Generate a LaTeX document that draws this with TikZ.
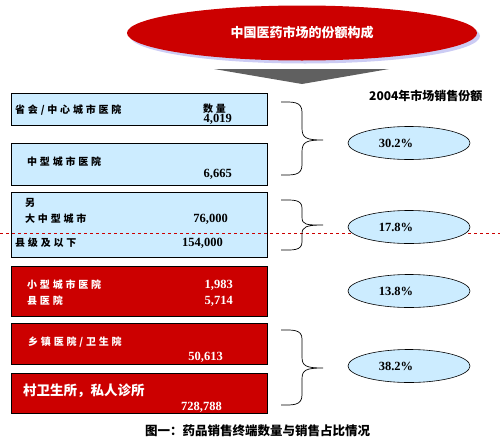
\documentclass[tikz,border=0pt]{standalone}
\usepackage{fontspec}
\setmainfont{Liberation Serif}
\newfontfamily\cjk{Noto Sans CJK SC}
\newfontfamily\cjksp[LetterSpace=28]{Noto Sans CJK SC}
\usetikzlibrary{shapes.geometric}
\definecolor{dred}{HTML}{CC0000}
\definecolor{lblue}{HTML}{CCECFF}
\definecolor{tgray}{HTML}{606060}
\definecolor{shad}{HTML}{CCCCF4}
\tikzset{
  bluebox/.style={draw=black, line width=0.9pt, fill=lblue},
  redbox/.style={draw=black, line width=0.9pt, fill=dred},
  lbl/.style={anchor=west, inner sep=0pt, font=\cjksp\bfseries\fontsize{10}{11}\selectfont},
  wlbl/.style={lbl, text=white},
  num/.style={anchor=east, inner sep=0pt, font=\bfseries\fontsize{12.5}{13}\selectfont},
  wnum/.style={num, text=white},
  pct/.style={ellipse, draw=black, line width=0.6pt, fill=lblue, minimum width=122pt, minimum height=33pt, inner sep=0pt, font=\bfseries\fontsize{12.5}{13}\selectfont},
  bracestyle/.style={draw=black, line width=0.7pt}
}
\begin{document}
\begin{tikzpicture}[x=1pt,y=-1pt]
\useasboundingbox (0,0) rectangle (500,442);
% title ellipse with shadow
\fill[shad] (305,36) ellipse (175pt and 27.5pt);
\node[ellipse, fill=dred, minimum width=350pt, minimum height=55pt, inner sep=0pt, text=white, font=\cjk\bfseries\fontsize{13}{14}\selectfont] (title) at (302,33) {中国医药市场的份额构成};
% grey arrow
\fill[tgray] (214,69) -- (389,69) -- (302,84) -- cycle;
\node[anchor=west, inner sep=0pt, font=\cjk\bfseries\fontsize{12}{13}\selectfont] (hdr) at (369,96) {2004年市场销售份额};
% boxes
\draw[bluebox] (11,93) rectangle (267,125);
\draw[bluebox] (11,143) rectangle (267,185);
\draw[bluebox] (11,192) rectangle (267,257);
\draw[redbox] (11,266) rectangle (267,316);
\draw[redbox] (11,323) rectangle (267,364);
\draw[redbox] (11,373) rectangle (267,413);
% dashed line
\draw[dred, dashed, line width=0.8pt] (0,233) -- (500,233);
% box 1
\node[lbl] (b1a) at (15,110) {省会/中心城市医院};
\node[lbl] (b1b) at (203,109) {数量};
\node[num] (b1n) at (232,119.5) {4,019};
% box 2
\node[lbl] (b2a) at (27,162) {中型城市医院};
\node[num] (b2n) at (232,174.5) {6,665};
% box 3
\node[lbl] (b3a) at (25,203) {另};
\node[lbl] (b3b) at (25,219) {大中型城市};
\node[num] (b3n) at (228,219) {76,000};
\node[lbl] (b3c) at (15,243) {县级及以下};
\node[num] (b3m) at (223,243) {154,000};
% box 4
\node[wlbl] (b4a) at (27,285) {小型城市医院};
\node[wnum] (b4n) at (233,285) {1,983};
\node[wlbl] (b4b) at (27,301) {县医院};
\node[wnum] (b4m) at (233,301) {5,714};
% box 5
\node[wlbl] (b5a) at (28,342) {乡镇医院/卫生院};
\node[wnum] (b5n) at (223,357) {50,613};
% box 6
\node[anchor=west, inner sep=0pt, text=white, font=\cjk\bfseries\fontsize{13.5}{14}\selectfont] (b6a) at (23,391) {村卫生所，私人诊所};
\node[wnum] (b6n) at (222,407) {728,788};
% braces
\draw[bracestyle] (281,102) .. controls (292,102) and (302,101) .. (302,112) -- (302,128) .. controls (302,138) and (306,140) .. (323,140)
  .. controls (306,140) and (302,142) .. (302,152) -- (302,165) .. controls (302,176) and (292,175) .. (281,175);
\draw[bracestyle] (281,200) .. controls (292,200) and (302,199) .. (302,208) -- (302,217) .. controls (302,225) and (306,225) .. (323,225)
  .. controls (306,225) and (302,227) .. (302,234) -- (302,242) .. controls (302,251) and (292,250) .. (281,250);
\draw[bracestyle] (281,330) .. controls (292,330) and (302,329) .. (302,339) -- (302,357) .. controls (302,366) and (306,368) .. (323,368)
  .. controls (306,368) and (302,370) .. (302,379) -- (302,395) .. controls (302,406) and (292,405) .. (281,405);
% percentages
\node[pct] (p1) at (409,143) {\hspace*{-26pt}30.2\%};
\node[pct] (p2) at (409,227) {\hspace*{-26pt}17.8\%};
\node[pct] (p3) at (409,291) {\hspace*{-26pt}13.8\%};
\node[pct] (p4) at (409,366) {\hspace*{-26pt}38.2\%};
% caption
\node[anchor=west, inner sep=0pt, font=\cjk\bfseries\fontsize{12.5}{13}\selectfont] (cap) at (145,431) {图一：药品销售终端数量与销售占比情况};
\end{tikzpicture}
\end{document}
